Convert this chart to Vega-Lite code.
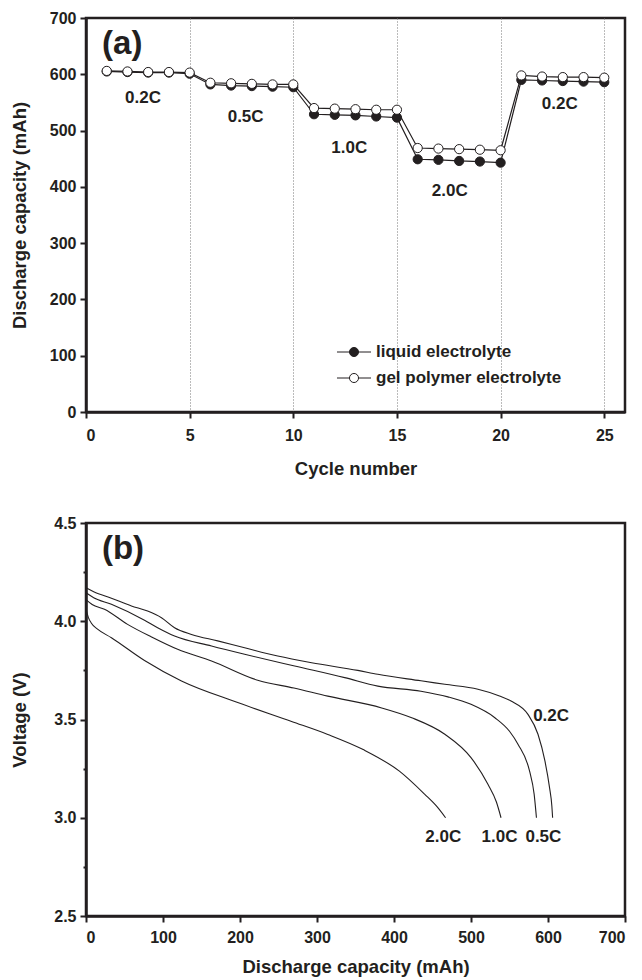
{
  "$schema": "https://vega.github.io/schema/vega-lite/v6.json",
  "background": "white",
  "padding": {"left": 8, "top": 8, "right": 15, "bottom": 0},
  "spacing": 34,
  "config": {
    "font": "Liberation Sans",
    "view": {"stroke": "#231f20", "strokeWidth": 2.5},
    "axis": {
      "domainColor": "#231f20", "domainWidth": 2.5,
      "tickColor": "#231f20", "tickWidth": 2, "tickSize": 6,
      "labelFont": "Liberation Sans", "labelFontWeight": "bold", "labelFontSize": 16, "labelColor": "#231f20",
      "titleFont": "Liberation Sans", "titleFontWeight": "bold", "titleFontSize": 18.5, "titleColor": "#231f20",
      "grid": false
    },
    "text": {"font": "Liberation Sans", "fontWeight": "bold", "color": "#231f20"}
  },
  "vconcat": [
    {
      "width": 539,
      "height": 394,
      "layer": [
        {
          "data": {"values": [
            {"series": "liquid electrolyte", "cycle": 1, "capacity": 605},
            {"series": "liquid electrolyte", "cycle": 2, "capacity": 604},
            {"series": "liquid electrolyte", "cycle": 3, "capacity": 603},
            {"series": "liquid electrolyte", "cycle": 4, "capacity": 603},
            {"series": "liquid electrolyte", "cycle": 5, "capacity": 601},
            {"series": "liquid electrolyte", "cycle": 6, "capacity": 582},
            {"series": "liquid electrolyte", "cycle": 7, "capacity": 580},
            {"series": "liquid electrolyte", "cycle": 8, "capacity": 579},
            {"series": "liquid electrolyte", "cycle": 9, "capacity": 578},
            {"series": "liquid electrolyte", "cycle": 10, "capacity": 577},
            {"series": "liquid electrolyte", "cycle": 11, "capacity": 529},
            {"series": "liquid electrolyte", "cycle": 12, "capacity": 528},
            {"series": "liquid electrolyte", "cycle": 13, "capacity": 527},
            {"series": "liquid electrolyte", "cycle": 14, "capacity": 525},
            {"series": "liquid electrolyte", "cycle": 15, "capacity": 523},
            {"series": "liquid electrolyte", "cycle": 16, "capacity": 449},
            {"series": "liquid electrolyte", "cycle": 17, "capacity": 448},
            {"series": "liquid electrolyte", "cycle": 18, "capacity": 446},
            {"series": "liquid electrolyte", "cycle": 19, "capacity": 445},
            {"series": "liquid electrolyte", "cycle": 20, "capacity": 443},
            {"series": "liquid electrolyte", "cycle": 21, "capacity": 590},
            {"series": "liquid electrolyte", "cycle": 22, "capacity": 589},
            {"series": "liquid electrolyte", "cycle": 23, "capacity": 588},
            {"series": "liquid electrolyte", "cycle": 24, "capacity": 587},
            {"series": "liquid electrolyte", "cycle": 25, "capacity": 586},
            {"series": "gel polymer electrolyte", "cycle": 1, "capacity": 606},
            {"series": "gel polymer electrolyte", "cycle": 2, "capacity": 605},
            {"series": "gel polymer electrolyte", "cycle": 3, "capacity": 604},
            {"series": "gel polymer electrolyte", "cycle": 4, "capacity": 604},
            {"series": "gel polymer electrolyte", "cycle": 5, "capacity": 603},
            {"series": "gel polymer electrolyte", "cycle": 6, "capacity": 585},
            {"series": "gel polymer electrolyte", "cycle": 7, "capacity": 584},
            {"series": "gel polymer electrolyte", "cycle": 8, "capacity": 583},
            {"series": "gel polymer electrolyte", "cycle": 9, "capacity": 582},
            {"series": "gel polymer electrolyte", "cycle": 10, "capacity": 582},
            {"series": "gel polymer electrolyte", "cycle": 11, "capacity": 540},
            {"series": "gel polymer electrolyte", "cycle": 12, "capacity": 539},
            {"series": "gel polymer electrolyte", "cycle": 13, "capacity": 538},
            {"series": "gel polymer electrolyte", "cycle": 14, "capacity": 537},
            {"series": "gel polymer electrolyte", "cycle": 15, "capacity": 537},
            {"series": "gel polymer electrolyte", "cycle": 16, "capacity": 469},
            {"series": "gel polymer electrolyte", "cycle": 17, "capacity": 468},
            {"series": "gel polymer electrolyte", "cycle": 18, "capacity": 467},
            {"series": "gel polymer electrolyte", "cycle": 19, "capacity": 466},
            {"series": "gel polymer electrolyte", "cycle": 20, "capacity": 465},
            {"series": "gel polymer electrolyte", "cycle": 21, "capacity": 598},
            {"series": "gel polymer electrolyte", "cycle": 22, "capacity": 596},
            {"series": "gel polymer electrolyte", "cycle": 23, "capacity": 595},
            {"series": "gel polymer electrolyte", "cycle": 24, "capacity": 595},
            {"series": "gel polymer electrolyte", "cycle": 25, "capacity": 594}
          ]},
          "layer": [
            {
              "mark": {"type": "line", "color": "#231f20", "strokeWidth": 1.2},
              "encoding": {
                "x": {
                  "field": "cycle", "type": "quantitative",
                  "scale": {"domain": [0, 26], "nice": false},
                  "axis": {
                    "title": "Cycle number", "values": [0, 5, 10, 15, 20, 25],
                    "grid": true, "gridDash": [1, 2], "gridColor": "#777", "gridWidth": 1,
                    "labelPadding": 9, "titlePadding": 16
                  }
                },
                "y": {
                  "field": "capacity", "type": "quantitative",
                  "scale": {"domain": [0, 700], "nice": false},
                  "axis": {
                    "title": "Discharge capacity (mAh)", "values": [0, 100, 200, 300, 400, 500, 600, 700],
                    "labelPadding": 4, "minExtent": 42, "maxExtent": 42, "titlePadding": 15
                  }
                },
                "detail": {"field": "series", "type": "nominal"}
              }
            },
            {
              "mark": {"type": "point", "shape": "circle", "filled": true, "stroke": "#231f20", "strokeWidth": 1, "size": 85, "opacity": 1},
              "encoding": {
                "x": {"field": "cycle", "type": "quantitative"},
                "y": {"field": "capacity", "type": "quantitative"},
                "fill": {
                  "field": "series", "type": "nominal",
                  "scale": {"domain": ["liquid electrolyte", "gel polymer electrolyte"], "range": ["#231f20", "#ffffff"]},
                  "legend": {
                    "title": null, "orient": "none", "legendX": 256, "legendY": 322, "padding": 0,
                    "symbolType": "M-1.5,0L-0.4,0M0.4,0L1.5,0M-0.4,0A0.4,0.4 0 1,0 0.4,0A0.4,0.4 0 1,0 -0.4,0Z",
                    "symbolSize": 514, "symbolStrokeColor": "#231f20", "symbolStrokeWidth": 1,
                    "labelFont": "Liberation Sans", "labelFontWeight": "bold", "labelFontSize": 17, "labelColor": "#231f20",
                    "labelOffset": 10, "rowPadding": 6, "labelLimit": 400
                  }
                }
              }
            }
          ]
        },
        {
          "data": {"values": [
            {"label": "(a)", "cycle": 1.75, "capacity": 654, "kind": "panel"},
            {"label": "0.2C", "cycle": 2.75, "capacity": 557, "kind": "rate"},
            {"label": "0.5C", "cycle": 7.7, "capacity": 525, "kind": "rate"},
            {"label": "1.0C", "cycle": 12.7, "capacity": 469, "kind": "rate"},
            {"label": "2.0C", "cycle": 17.55, "capacity": 392, "kind": "rate"},
            {"label": "0.2C", "cycle": 22.85, "capacity": 547, "kind": "rate"}
          ]},
          "mark": {"type": "text", "fontWeight": "bold"},
          "encoding": {
            "x": {"field": "cycle", "type": "quantitative"},
            "y": {"field": "capacity", "type": "quantitative"},
            "text": {"field": "label"},
            "size": {"field": "kind", "type": "nominal", "scale": {"domain": ["panel", "rate"], "range": [33, 17]}, "legend": null}
          }
        }
      ]
    },
    {
      "width": 539,
      "height": 393,
      "layer": [
        {
          "data": {"values": [
            {"rate": "0.2C", "capacity": 0, "voltage": 4.17},
            {"rate": "0.2C", "capacity": 10, "voltage": 4.15},
            {"rate": "0.2C", "capacity": 33, "voltage": 4.117},
            {"rate": "0.2C", "capacity": 59, "voltage": 4.078},
            {"rate": "0.2C", "capacity": 80, "voltage": 4.052},
            {"rate": "0.2C", "capacity": 98, "voltage": 4.018},
            {"rate": "0.2C", "capacity": 115, "voltage": 3.967},
            {"rate": "0.2C", "capacity": 137, "voltage": 3.933},
            {"rate": "0.2C", "capacity": 171, "voltage": 3.9},
            {"rate": "0.2C", "capacity": 206, "voltage": 3.865},
            {"rate": "0.2C", "capacity": 249, "voltage": 3.823},
            {"rate": "0.2C", "capacity": 293, "voltage": 3.789},
            {"rate": "0.2C", "capacity": 353, "voltage": 3.75},
            {"rate": "0.2C", "capacity": 379, "voltage": 3.73},
            {"rate": "0.2C", "capacity": 435, "voltage": 3.697},
            {"rate": "0.2C", "capacity": 466, "voltage": 3.679},
            {"rate": "0.2C", "capacity": 509, "voltage": 3.654},
            {"rate": "0.2C", "capacity": 537, "voltage": 3.62},
            {"rate": "0.2C", "capacity": 552, "voltage": 3.594},
            {"rate": "0.2C", "capacity": 574, "voltage": 3.526},
            {"rate": "0.2C", "capacity": 587, "voltage": 3.425},
            {"rate": "0.2C", "capacity": 596, "voltage": 3.289},
            {"rate": "0.2C", "capacity": 602, "voltage": 3.153},
            {"rate": "0.2C", "capacity": 605, "voltage": 3.06},
            {"rate": "0.2C", "capacity": 606, "voltage": 3.0},
            {"rate": "0.5C", "capacity": 0, "voltage": 4.145},
            {"rate": "0.5C", "capacity": 10, "voltage": 4.12},
            {"rate": "0.5C", "capacity": 33, "voltage": 4.086},
            {"rate": "0.5C", "capacity": 76, "voltage": 4.005},
            {"rate": "0.5C", "capacity": 93, "voltage": 3.967},
            {"rate": "0.5C", "capacity": 115, "voltage": 3.925},
            {"rate": "0.5C", "capacity": 163, "voltage": 3.874},
            {"rate": "0.5C", "capacity": 206, "voltage": 3.832},
            {"rate": "0.5C", "capacity": 271, "voltage": 3.772},
            {"rate": "0.5C", "capacity": 336, "voltage": 3.713},
            {"rate": "0.5C", "capacity": 379, "voltage": 3.67},
            {"rate": "0.5C", "capacity": 435, "voltage": 3.644},
            {"rate": "0.5C", "capacity": 470, "voltage": 3.615},
            {"rate": "0.5C", "capacity": 500, "voltage": 3.577},
            {"rate": "0.5C", "capacity": 531, "voltage": 3.509},
            {"rate": "0.5C", "capacity": 550, "voltage": 3.44},
            {"rate": "0.5C", "capacity": 561, "voltage": 3.374},
            {"rate": "0.5C", "capacity": 576, "voltage": 3.238},
            {"rate": "0.5C", "capacity": 582, "voltage": 3.12},
            {"rate": "0.5C", "capacity": 585, "voltage": 3.0},
            {"rate": "1.0C", "capacity": 0, "voltage": 4.11},
            {"rate": "1.0C", "capacity": 8, "voltage": 4.085},
            {"rate": "1.0C", "capacity": 24, "voltage": 4.061},
            {"rate": "1.0C", "capacity": 54, "voltage": 3.984},
            {"rate": "1.0C", "capacity": 85, "voltage": 3.92},
            {"rate": "1.0C", "capacity": 119, "voltage": 3.857},
            {"rate": "1.0C", "capacity": 163, "voltage": 3.798},
            {"rate": "1.0C", "capacity": 223, "voltage": 3.7},
            {"rate": "1.0C", "capacity": 270, "voltage": 3.66},
            {"rate": "1.0C", "capacity": 314, "voltage": 3.619},
            {"rate": "1.0C", "capacity": 384, "voltage": 3.559},
            {"rate": "1.0C", "capacity": 423, "voltage": 3.509},
            {"rate": "1.0C", "capacity": 466, "voltage": 3.425},
            {"rate": "1.0C", "capacity": 500, "voltage": 3.306},
            {"rate": "1.0C", "capacity": 522, "voltage": 3.17},
            {"rate": "1.0C", "capacity": 533, "voltage": 3.08},
            {"rate": "1.0C", "capacity": 539, "voltage": 3.0},
            {"rate": "2.0C", "capacity": 0, "voltage": 4.06},
            {"rate": "2.0C", "capacity": 3, "voltage": 4.02},
            {"rate": "2.0C", "capacity": 7, "voltage": 3.99},
            {"rate": "2.0C", "capacity": 15, "voltage": 3.96},
            {"rate": "2.0C", "capacity": 33, "voltage": 3.916},
            {"rate": "2.0C", "capacity": 76, "voltage": 3.8},
            {"rate": "2.0C", "capacity": 124, "voltage": 3.696},
            {"rate": "2.0C", "capacity": 198, "voltage": 3.585},
            {"rate": "2.0C", "capacity": 267, "voltage": 3.49},
            {"rate": "2.0C", "capacity": 314, "voltage": 3.424},
            {"rate": "2.0C", "capacity": 360, "voltage": 3.347},
            {"rate": "2.0C", "capacity": 407, "voltage": 3.237},
            {"rate": "2.0C", "capacity": 440, "voltage": 3.119},
            {"rate": "2.0C", "capacity": 455, "voltage": 3.06},
            {"rate": "2.0C", "capacity": 467, "voltage": 3.0}
          ]},
          "mark": {"type": "line", "color": "#231f20", "strokeWidth": 1.1, "interpolate": "monotone"},
          "encoding": {
            "x": {
              "field": "capacity", "type": "quantitative",
              "scale": {"domain": [0, 700], "nice": false},
              "axis": {
                "title": "Discharge capacity (mAh)",
                "values": [0, 50, 100, 150, 200, 250, 300, 350, 400, 450, 500, 550, 600, 650, 700],
                "labelExpr": "datum.value % 100 === 0 ? datum.label : ''",
                "tickSize": {"condition": {"test": "datum.value % 100 === 0", "value": 6}, "value": 3},
                "labelPadding": 7, "titlePadding": 12, "labelOverlap": false
              }
            },
            "y": {
              "field": "voltage", "type": "quantitative",
              "scale": {"domain": [2.5, 4.5], "nice": false, "zero": false},
              "axis": {
                "title": "Voltage (V)", "format": ".1f",
                "values": [2.5, 2.75, 3.0, 3.25, 3.5, 3.75, 4.0, 4.25, 4.5],
                "labelExpr": "(datum.value * 4) % 2 === 0 ? datum.label : ''",
                "tickSize": {"condition": {"test": "(datum.value * 4) % 2 === 0", "value": 6}, "value": 3},
                "labelPadding": 4, "minExtent": 42, "maxExtent": 42, "titlePadding": 15, "labelOverlap": false
              }
            },
            "detail": {"field": "rate", "type": "nominal"}
          }
        },
        {
          "data": {"values": [
            {"label": "(b)", "capacity": 48, "voltage": 4.37, "kind": "panel"},
            {"label": "0.2C", "capacity": 604, "voltage": 3.52, "kind": "rate"},
            {"label": "0.5C", "capacity": 594, "voltage": 2.9, "kind": "rate"},
            {"label": "1.0C", "capacity": 537, "voltage": 2.9, "kind": "rate"},
            {"label": "2.0C", "capacity": 464, "voltage": 2.9, "kind": "rate"}
          ]},
          "mark": {"type": "text", "fontWeight": "bold"},
          "encoding": {
            "x": {"field": "capacity", "type": "quantitative"},
            "y": {"field": "voltage", "type": "quantitative"},
            "text": {"field": "label"},
            "size": {"field": "kind", "type": "nominal", "scale": {"domain": ["panel", "rate"], "range": [33, 16]}, "legend": null}
          }
        }
      ]
    }
  ]
}
